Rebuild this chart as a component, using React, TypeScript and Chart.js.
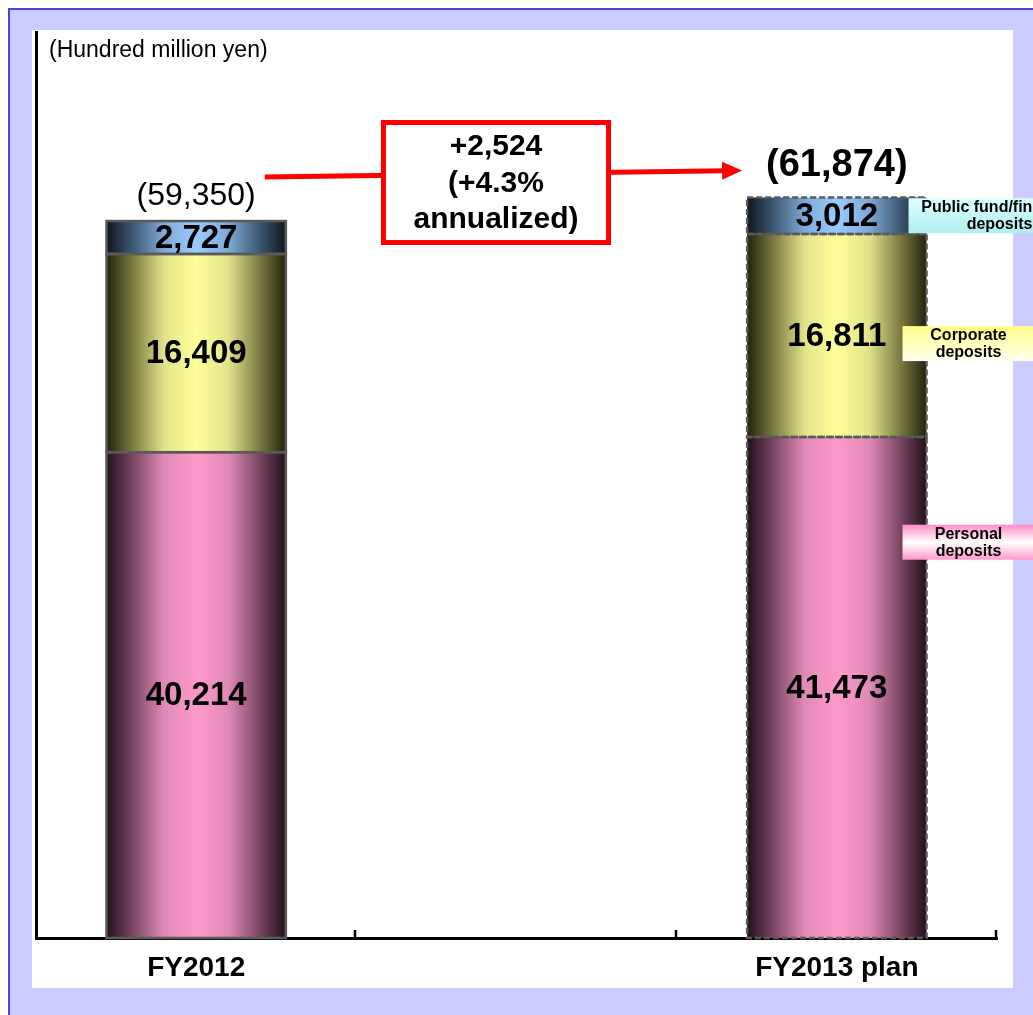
import React, { useEffect, useRef } from 'react';
import { Chart, registerables } from 'chart.js';

Chart.register(...registerables);

// Deposit balances (hundred million yen)
const categories = ['FY2012', '', 'FY2013 plan'];
const personalDeposits = [40214, null, 41473];
const corporateDeposits = [16409, null, 16811];
const publicFundDeposits = [2727, null, 3012];
const totalLabels = ['(59,350)', '', '(61,874)'];
const changeLines = ['+2,524', '(+4.3%', 'annualized)'];
const unitLabel = '(Hundred million yen)';
const seriesNames = ['Personal deposits', 'Corporate deposits', 'Public fund/financial deposits'];
const seriesTagLines = [
  ['Personal', 'deposits'],
  ['Corporate', 'deposits'],
  ['Public fund/financial', 'deposits'],
];
const Y_MAX = 75000;

const FONT = 'Arial, "Liberation Sans", Helvetica, sans-serif';
const BAR_FRACTION = 0.56;
const PLAN_INDEX = 2;

type Stops = [number, string][];

const PINK: Stops = [
  [0, '#21101a'], [0.14, '#774360'], [0.32, '#e08ab8'], [0.5, '#ff99cc'],
  [0.68, '#e08ab8'], [0.86, '#774360'], [1, '#21101a'],
];
const YELLOW: Stops = [
  [0, '#22220e'], [0.14, '#77773f'], [0.32, '#e2e28c'], [0.5, '#ffff99'],
  [0.68, '#e2e28c'], [0.86, '#77773f'], [1, '#22220e'],
];
const BLUE: Stops = [
  [0, '#0e141c'], [0.14, '#3b5570'], [0.32, '#7fa9d6'], [0.5, '#99ccff'],
  [0.68, '#7fa9d6'], [0.86, '#3b5570'], [1, '#0e141c'],
];

function barFill(stops: Stops) {
  return (ctx: any) => {
    const chart = ctx.chart;
    const xs = chart.scales && chart.scales.x;
    if (ctx.type !== 'data' || !chart.chartArea || !xs) return stops[3][1];
    const cx = xs.getPixelForValue(ctx.dataIndex);
    const half = ((xs.width / categories.length) * BAR_FRACTION) / 2;
    const g = chart.ctx.createLinearGradient(cx - half, 0, cx + half, 0);
    stops.forEach(([o, c]) => g.addColorStop(o, c));
    return g;
  };
}

const fmt = (v: number) => v.toLocaleString('en-US');

// Side tag styling per series: vertical gradient + anchor within the segment
const TAG_STYLES = [
  { stops: [[0, '#ff8cc6'], [0.5, '#ffffff'], [1, '#ff99cc']] as Stops, anchor: 0.21, left: -24, width: 132 },
  { stops: [[0, '#ffff8a'], [0.6, '#ffffc8'], [1, '#ffffee']] as Stops, anchor: 0.54, left: -24, width: 132 },
  { stops: [[0, '#dcffff'], [1, '#b0eeee']] as Stops, anchor: 0.5, left: -18, width: 182 },
];

const annotationPlugin = {
  id: 'depositAnnotations',
  afterDraw(chart: any) {
    const { ctx, chartArea } = chart;
    const metas = [0, 1, 2].map((i) => chart.getDatasetMeta(i));
    const seriesData = [personalDeposits, corporateDeposits, publicFundDeposits];

    ctx.save();

    // unit caption
    ctx.fillStyle = '#000';
    ctx.font = `23px ${FONT}`;
    ctx.textAlign = 'left';
    ctx.textBaseline = 'middle';
    ctx.fillText(unitLabel, chartArea.left + 13, chartArea.top + 19);

    // inward tick marks on the category axis
    const xs = chart.scales.x;
    const step = xs.width / categories.length;
    ctx.strokeStyle = '#000';
    ctx.lineWidth = 2.5;
    for (let k = 1; k <= categories.length; k++) {
      const px = Math.round(xs.left + k * step) - 1;
      ctx.beginPath();
      ctx.moveTo(px, chartArea.bottom);
      ctx.lineTo(px, chartArea.bottom - 8);
      ctx.stroke();
    }

    // segment outlines: solid for actuals, dashed for the plan bar
    ctx.lineWidth = 2.5;
    ctx.strokeStyle = '#5a5a5a';
    categories.forEach((_, j) => {
      ctx.setLineDash(j === PLAN_INDEX ? [6, 3] : []);
      metas.forEach((m) => {
        const el: any = m.data[j];
        if (!el || seriesData[m.index][j] == null) return;
        const { x, y, base, width } = el.getProps(['x', 'y', 'base', 'width'], true);
        ctx.strokeRect(x - width / 2, y, width, base - y);
      });
    });
    ctx.setLineDash([]);

    // segment values
    ctx.fillStyle = '#000';
    ctx.textAlign = 'center';
    ctx.textBaseline = 'middle';
    ctx.font = `bold 33px ${FONT}`;
    metas.forEach((m, i) => {
      m.data.forEach((el: any, j: number) => {
        const v = seriesData[i][j];
        if (v == null) return;
        const { x, y, base } = el.getProps(['x', 'y', 'base'], true);
        ctx.fillText(fmt(v), x, (y + base) / 2 + 1);
      });
    });

    // totals above bars
    const totalPos: { left: number; right: number; cy: number }[] = [];
    categories.forEach((_, j) => {
      if (!totalLabels[j]) return;
      const el: any = metas[2].data[j];
      const { x, y } = el.getProps(['x', 'y'], true);
      const plan = j === PLAN_INDEX;
      ctx.font = plan ? `bold 38px ${FONT}` : `32px ${FONT}`;
      const cy = y - (plan ? 32 : 25);
      ctx.fillText(totalLabels[j], x, cy);
      const w = ctx.measureText(totalLabels[j]).width;
      totalPos[j] = { left: x - w / 2, right: x + w / 2, cy };
    });

    // arrow between the totals
    const a = totalPos[0];
    const b = totalPos[PLAN_INDEX];
    if (a && b) {
      const x1 = a.right + 9;
      const y1 = a.cy - 19;
      const x2 = b.left - 24;
      const y2 = b.cy + 5;
      const ang = Math.atan2(y2 - y1, x2 - x1);
      const head = 20;
      ctx.strokeStyle = '#ff0000';
      ctx.fillStyle = '#ff0000';
      ctx.lineWidth = 5;
      ctx.beginPath();
      ctx.moveTo(x1, y1);
      ctx.lineTo(x2 - Math.cos(ang) * head * 0.8, y2 - Math.sin(ang) * head * 0.8);
      ctx.stroke();
      ctx.beginPath();
      ctx.moveTo(x2, y2);
      ctx.lineTo(x2 - Math.cos(ang) * head + Math.sin(ang) * 9, y2 - Math.sin(ang) * head - Math.cos(ang) * 9);
      ctx.lineTo(x2 - Math.cos(ang) * head - Math.sin(ang) * 9, y2 - Math.sin(ang) * head + Math.cos(ang) * 9);
      ctx.closePath();
      ctx.fill();
    }

    // change callout box
    const bx = chartArea.left + 345;
    const by = chartArea.top + 88;
    const bw = 230;
    const bh = 125;
    ctx.fillStyle = '#fff';
    ctx.fillRect(bx, by, bw, bh);
    ctx.strokeStyle = '#ff0000';
    ctx.lineWidth = 5;
    ctx.strokeRect(bx + 2.5, by + 2.5, bw - 5, bh - 5);
    ctx.fillStyle = '#000';
    ctx.font = `bold 30px ${FONT}`;
    ctx.textAlign = 'center';
    changeLines.forEach((line, k) => {
      ctx.fillText(line, bx + bw / 2, by + bh / 2 + (k - 1) * 36.5 + 1);
    });

    // series tags next to the plan bar
    metas.forEach((m, i) => {
      const el: any = m.data[PLAN_INDEX];
      if (!el) return;
      const { x, y, base, width } = el.getProps(['x', 'y', 'base', 'width'], true);
      const st = TAG_STYLES[i];
      const h = 35;
      const cy = y + (base - y) * st.anchor;
      const left = x + width / 2 + st.left;
      const top = cy - h / 2;
      const g = ctx.createLinearGradient(0, top, 0, top + h);
      st.stops.forEach(([o, c]) => g.addColorStop(o, c));
      ctx.fillStyle = g;
      ctx.fillRect(left, top, st.width, h);
      ctx.fillStyle = '#000';
      ctx.font = `bold 16px ${FONT}`;
      ctx.textAlign = 'center';
      const tx = left + st.width / 2;
      ctx.fillText(seriesTagLines[i][0], tx, cy - 8);
      ctx.fillText(seriesTagLines[i][1], tx, cy + 9);
    });

    ctx.restore();
  },
};

export default function App() {
  const canvasRef = useRef<HTMLCanvasElement | null>(null);

  useEffect(() => {
    if (!canvasRef.current) return;
    const chart = new Chart(canvasRef.current, {
      type: 'bar',
      data: {
        labels: categories,
        datasets: [
          { label: seriesNames[0], data: personalDeposits, backgroundColor: barFill(PINK) },
          { label: seriesNames[1], data: corporateDeposits, backgroundColor: barFill(YELLOW) },
          { label: seriesNames[2], data: publicFundDeposits, backgroundColor: barFill(BLUE) },
        ].map((d) => ({
          ...d,
          borderWidth: 0,
          barPercentage: 1,
          categoryPercentage: BAR_FRACTION,
        })) as any,
      },
      options: {
        responsive: false,
        animation: false,
        layout: { padding: { top: 32, left: 36, right: 36, bottom: 0 } },
        plugins: { legend: { display: false }, tooltip: { enabled: false } },
        scales: {
          x: {
            stacked: true,
            grid: { display: false, drawTicks: false },
            border: { display: true, color: '#000', width: 3 },
            ticks: {
              color: '#000',
              font: { family: FONT, size: 28, weight: 'bold' },
              padding: 13,
              maxRotation: 0,
              autoSkip: false,
            },
            afterFit: (s: any) => {
              s.height = 77;
            },
          },
          y: {
            stacked: true,
            min: 0,
            max: Y_MAX,
            grid: { display: false, drawTicks: false },
            border: { display: true, color: '#000', width: 3 },
            ticks: { display: false },
            afterFit: (s: any) => {
              s.width = 0;
            },
          },
        },
      } as any,
      plugins: [annotationPlugin],
    });
    return () => chart.destroy();
  }, []);

  return (
    <div style={{ position: 'fixed', left: 0, top: 0, width: 1033, height: 1015, background: '#fff', overflow: 'hidden' }}>
      <div
        style={{
          position: 'absolute',
          left: 8,
          top: 8,
          width: 1100,
          height: 1100,
          background: '#ccccff',
          borderLeft: '2px solid #4646e0',
          borderTop: '2px solid #4646e0',
        }}
      />
      <div style={{ position: 'absolute', left: 32, top: 30, width: 981, height: 958, background: '#fff' }} />
      <canvas ref={canvasRef} width={1033} height={1015} style={{ position: 'absolute', left: 0, top: 0 }} />
    </div>
  );
}
